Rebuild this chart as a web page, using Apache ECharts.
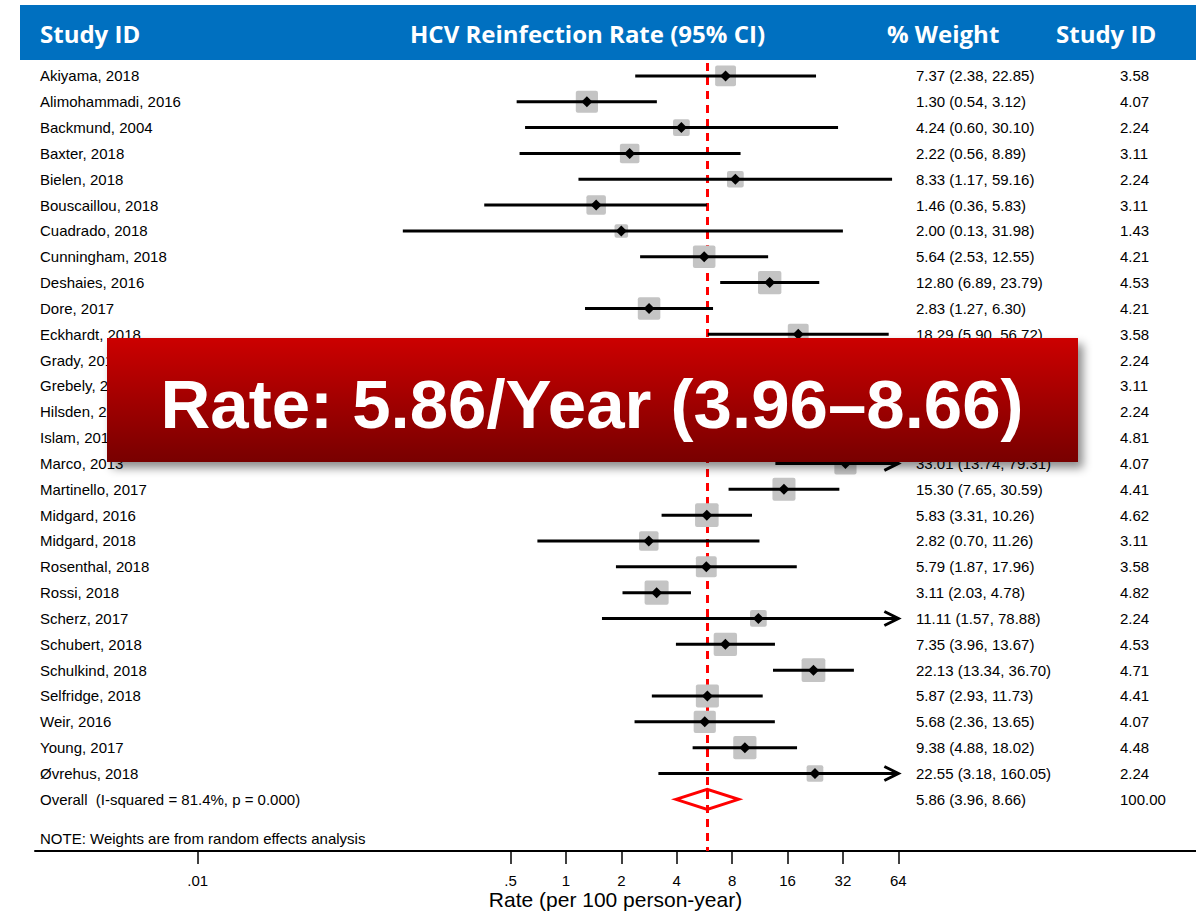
<!DOCTYPE html>
<html>
<head>
<meta charset="utf-8">
<script src="https://cdn.jsdelivr.net/npm/echarts@6/dist/echarts.min.js"></script>
<style>
html,body{margin:0;padding:0;background:#fff;}
#chart{width:1196px;height:911px;}
</style>
</head>
<body>
<div id="chart"></div>
<script>
// ---------------- data ----------------
const studies = [
  'Akiyama, 2018','Alimohammadi, 2016','Backmund, 2004','Baxter, 2018','Bielen, 2018',
  'Bouscaillou, 2018','Cuadrado, 2018','Cunningham, 2018','Deshaies, 2016','Dore, 2017',
  'Eckhardt, 2018','Grady, 2012','Grebely, 2010','Hilsden, 2013','Islam, 2017',
  'Marco, 2013','Martinello, 2017','Midgard, 2016','Midgard, 2018','Rosenthal, 2018',
  'Rossi, 2018','Scherz, 2017','Schubert, 2018','Schulkind, 2018','Selfridge, 2018',
  'Weir, 2016','Young, 2017','Øvrehus, 2018'
];
const estimates = [7.37,1.30,4.24,2.22,8.33,1.46,2.00,5.64,12.80,2.83,
  18.29,3.70,5.35,3.87,3.60,33.01,15.30,5.83,2.82,5.79,
  3.11,11.11,7.35,22.13,5.87,5.68,9.38,22.55];
const lowerCI = [2.38,0.54,0.60,0.56,1.17,0.36,0.13,2.53,6.89,1.27,
  5.90,0.52,1.34,0.55,2.35,13.74,7.65,3.31,0.70,1.87,
  2.03,1.57,3.96,13.34,2.93,2.36,4.88,3.18];
const upperCI = [22.85,3.12,30.10,8.89,59.16,5.83,31.98,12.55,23.79,6.30,
  56.72,26.27,21.40,27.47,5.51,79.31,30.59,10.26,11.26,17.96,
  4.78,78.88,13.67,36.70,11.73,13.65,18.02,160.05];
const weights = [3.58,4.07,2.24,3.11,2.24,3.11,1.43,4.21,4.53,4.21,
  3.58,2.24,3.11,2.24,4.81,4.07,4.41,4.62,3.11,3.58,
  4.82,2.24,4.53,4.71,4.41,4.07,4.48,2.24];
const overallLabel = 'Overall  (I-squared = 81.4%, p = 0.000)';
const overallEst = [5.86];
const overallLo = [3.96];
const overallHi = [8.66];
const overallWeight = [100.00];
const tickValues = [0.01,0.5,1,2,4,8,16,32,64];
const tickLabels = ['.01','.5','1','2','4','8','16','32','64'];
const headerTexts = ['Study ID','HCV Reinfection Rate (95% CI)','% Weight','Study ID'];
const noteText = 'NOTE: Weights are from random effects analysis';
const axisTitle = 'Rate (per 100 person-year)';

// ---------------- styling / layout ----------------
const CLIP_MAX = 64;
const TXT_FONT = '15px "Liberation Sans", Arial, sans-serif';
const X_NAME = 40, X_EST = 916, X_W = 1120;

function fmtCI(e, l, h) {
  return e.toFixed(2) + ' (' + l.toFixed(2) + ', ' + h.toFixed(2) + ')';
}

const studyData = studies.map((s, i) => [estimates[i], lowerCI[i], upperCI[i], weights[i], i]);
const overallData = [[overallEst[0], overallLo[0], overallHi[0], overallWeight[0], studies.length]];

function textEl(x, y, str) {
  return {type: 'text', style: {x: x, y: y, text: str, font: TXT_FONT, fill: '#000', align: 'left', verticalAlign: 'middle'}};
}

function renderStudy(params, api) {
  const i = params.dataIndex;
  const est = api.value(0), lo = api.value(1), hi = api.value(2), w = api.value(3), row = api.value(4);
  const pE = api.coord([est, row]);
  const pL = api.coord([lo, row]);
  const pH = api.coord([Math.min(hi, CLIP_MAX), row]);
  const y = pE[1];
  const side = 10.5 * Math.sqrt(w) + 1;
  const ch = [
    {type: 'rect', shape: {x: pE[0] - side / 2, y: y - side / 2, width: side, height: side, r: 2}, style: {fill: '#c4c4c4'}},
    {type: 'line', shape: {x1: pL[0], y1: y, x2: pH[0], y2: y}, style: {stroke: '#000', lineWidth: 3}},
    {type: 'polygon', shape: {points: [[pE[0] - 5.5, y], [pE[0], y - 5.5], [pE[0] + 5.5, y], [pE[0], y + 5.5]]}, style: {fill: '#000'}}
  ];
  if (hi > CLIP_MAX) {
    ch.push({type: 'polyline', shape: {points: [[pH[0] - 14, y - 7], [pH[0], y], [pH[0] - 14, y + 7]]}, style: {stroke: '#000', lineWidth: 3, fill: null}});
  }
  ch.push(textEl(X_NAME, y, studies[i]));
  ch.push(textEl(X_EST, y, fmtCI(est, lo, hi)));
  ch.push(textEl(X_W, y, w.toFixed(2)));
  return {type: 'group', children: ch};
}

function renderOverall(params, api) {
  const est = api.value(0), lo = api.value(1), hi = api.value(2), w = api.value(3), row = api.value(4);
  const pE = api.coord([est, row]);
  const pL = api.coord([lo, row]);
  const pH = api.coord([hi, row]);
  const y = pE[1];
  return {type: 'group', children: [
    {type: 'polygon', shape: {points: [[pL[0], y], [pE[0], y - 10], [pH[0], y], [pE[0], y + 10]]}, style: {fill: 'none', stroke: '#ff0000', lineWidth: 3}},
    textEl(X_NAME, y, overallLabel),
    textEl(X_EST, y, fmtCI(est, lo, hi)),
    textEl(X_W, y, w.toFixed(2))
  ]};
}

const chart = echarts.init(document.getElementById('chart'), null, {renderer: 'svg'});
const hdrFont = 'bold 24px "Open Sans", sans-serif';
const bannerText = 'Rate: ' + overallEst[0].toFixed(2) + '/Year (' + overallLo[0].toFixed(2) + '\u2013' + overallHi[0].toFixed(2) + ')';

chart.setOption({
  animation: false,
  backgroundColor: '#fff',
  grid: {left: 35, right: 0, top: 63, bottom: 60, containLabel: false, outerBoundsMode: 'none'},
  xAxis: {
    type: 'log', logBase: 2, min: 0.001305, max: 2650, position: 'bottom',
    axisLine: {show: true, onZero: false, lineStyle: {color: '#000', width: 2}},
    axisTick: {show: true, customValues: tickValues, length: 13, lineStyle: {color: '#000', width: 1.5}},
    axisLabel: {
      show: true, customValues: tickValues, margin: 22, color: '#000',
      fontFamily: '"Liberation Sans", Arial, sans-serif', fontSize: 15,
      formatter: function (v) {
        let best = 0, bd = Infinity;
        tickValues.forEach((t, k) => { const d = Math.abs(Math.log(t) - Math.log(v)); if (d < bd) { bd = d; best = k; } });
        return tickLabels[best];
      }
    },
    splitLine: {show: false},
    name: axisTitle, nameLocation: 'middle', nameGap: 38, nameMoveOverlap: false,
    nameTextStyle: {color: '#000', fontFamily: '"Liberation Sans", Arial, sans-serif', fontSize: 21, verticalAlign: 'top'}
  },
  yAxis: {type: 'value', min: -0.5, max: 30, inverse: true, show: false},
  series: [
    {
      type: 'custom', name: 'studies', data: studyData, renderItem: renderStudy, z: 3,
      encode: {x: [0, 1, 2], y: 4},
      markLine: {
        silent: true, symbol: ['none', 'none'], label: {show: false}, z: 1,
        lineStyle: {color: '#ff0000', type: [8, 6], width: 3},
        data: [{xAxis: overallEst[0]}]
      }
    },
    {
      type: 'custom', name: 'overall', data: overallData, renderItem: renderOverall, z: 4,
      encode: {x: [0, 1, 2], y: 4}
    }
  ],
  graphic: [
    {type: 'rect', z: 50, shape: {x: 20, y: 5, width: 1176, height: 55}, style: {fill: '#0070c0'}},
    {type: 'text', z: 51, style: {x: 40, y: 33, text: headerTexts[0], font: hdrFont, fill: '#fff', verticalAlign: 'middle'}},
    {type: 'text', z: 51, style: {x: 410, y: 33, text: headerTexts[1], font: hdrFont, fill: '#fff', verticalAlign: 'middle'}},
    {type: 'text', z: 51, style: {x: 887, y: 33, text: headerTexts[2], font: hdrFont, fill: '#fff', verticalAlign: 'middle'}},
    {type: 'text', z: 51, style: {x: 1056, y: 33, text: headerTexts[3], font: hdrFont, fill: '#fff', verticalAlign: 'middle'}},
    {type: 'text', z: 51, style: {x: 40, y: 838, text: noteText, font: TXT_FONT, fill: '#000', verticalAlign: 'middle'}},
    {type: 'rect', z: 100, shape: {x: 107, y: 338, width: 971, height: 124},
      style: {
        fill: {type: 'linear', x: 0, y: 0, x2: 0, y2: 1, colorStops: [{offset: 0, color: '#cc0000'}, {offset: 1, color: '#780000'}]},
        shadowBlur: 10, shadowOffsetX: 5, shadowOffsetY: 6, shadowColor: 'rgba(0,0,0,0.45)'
      }},
    {type: 'text', z: 101, style: {x: 592, y: 404, text: bannerText, font: 'bold 69px "Liberation Sans", Arial, sans-serif', fill: '#fff', align: 'center', verticalAlign: 'middle'}}
  ]
});
</script>
</body>
</html>
